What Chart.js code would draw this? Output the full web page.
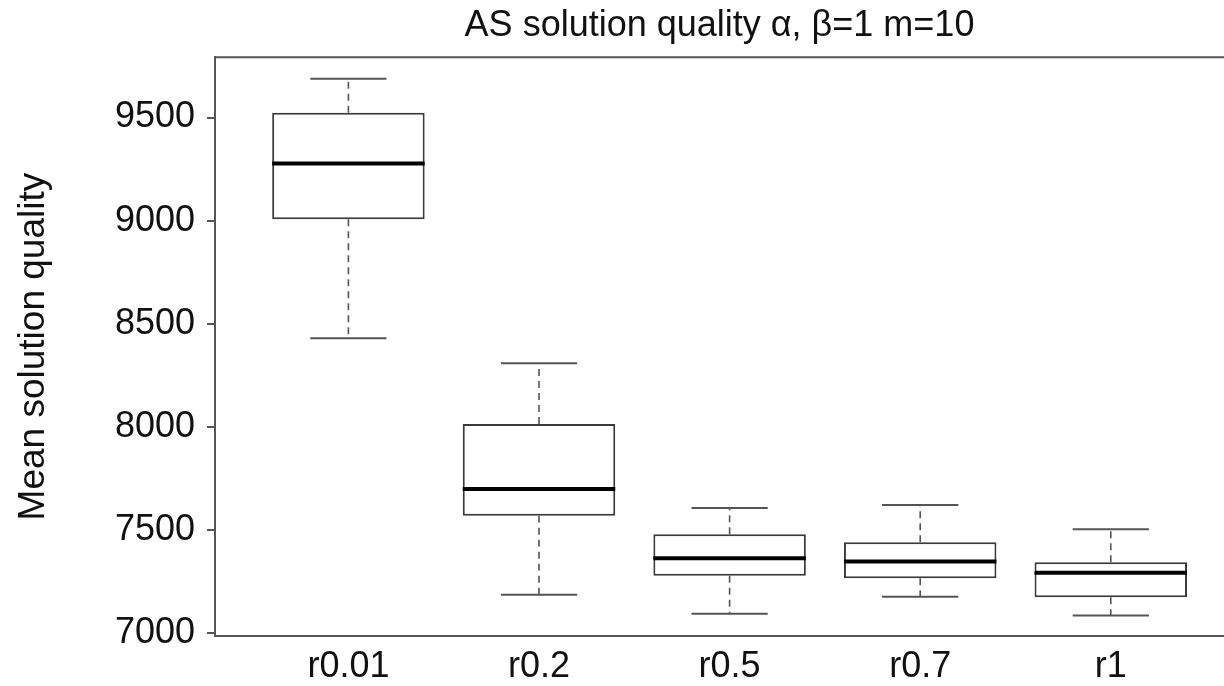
<!DOCTYPE html>
<html>
<head>
<meta charset="utf-8">
<script src="https://cdn.jsdelivr.net/npm/chart.js@4.4.1/dist/chart.umd.min.js"></script>
<style>
  html, body { margin: 0; padding: 0; background: #ffffff; overflow: hidden; }
  #wrap { width: 1224px; height: 686px; }
</style>
</head>
<body>
<div id="wrap"><canvas id="c" width="1224" height="686"></canvas></div>
<script>
// ---- data ----
const categories  = ['r0.01', 'r0.2', 'r0.5', 'r0.7', 'r1'];
const whiskerLow  = [8429, 7184, 7092, 7175, 7083];
const q1          = [9007, 7568, 7277, 7264, 7172];
const median      = [9277, 7698, 7361, 7345, 7291];
const q3          = [9524, 8013, 7478, 7439, 7342];
const whiskerHigh = [9688, 8308, 7605, 7620, 7502];
const yTicks      = [7000, 7500, 8000, 8500, 9000, 9500];

const titleText = 'AS solution quality \u03B1, \u03B2=1 m=10';
const yTitle = 'Mean solution quality';

const FONT = "'Liberation Sans', Arial, Helvetica, sans-serif";
const TEXT = '#111111';
const FRAME = '#555555';

const boxData = categories.map((c, i) => ({ x: i + 1, y: [q1[i], q3[i]] }));

const boxExtras = {
  id: 'boxExtras',
  afterDatasetsDraw(chart) {
    const ctx = chart.ctx;
    const xs = chart.scales.x, ys = chart.scales.y;
    const area = chart.chartArea;
    ctx.save();
    // top frame line
    ctx.strokeStyle = FRAME;
    ctx.lineWidth = 2;
    ctx.beginPath();
    ctx.moveTo(area.left, area.top);
    ctx.lineTo(area.right, area.top);
    ctx.stroke();

    categories.forEach((c, i) => {
      const xc = xs.getPixelForValue(i + 1);
      const halfBox = (xs.getPixelForValue(i + 1.4) - xs.getPixelForValue(i + 0.6)) / 2;
      const halfCap = halfBox / 2;
      const yLo = ys.getPixelForValue(whiskerLow[i]);
      const yQ1 = ys.getPixelForValue(q1[i]);
      const yMed = ys.getPixelForValue(median[i]);
      const yQ3 = ys.getPixelForValue(q3[i]);
      const yHi = ys.getPixelForValue(whiskerHigh[i]);

      // dashed whiskers
      ctx.strokeStyle = '#555555';
      ctx.lineWidth = 1.6;
      ctx.setLineDash([7, 5]);
      ctx.beginPath();
      ctx.moveTo(xc, yQ3); ctx.lineTo(xc, yHi);
      ctx.moveTo(xc, yQ1); ctx.lineTo(xc, yLo);
      ctx.stroke();
      ctx.setLineDash([]);

      // caps
      ctx.lineWidth = 2;
      ctx.beginPath();
      ctx.moveTo(xc - halfCap, yHi); ctx.lineTo(xc + halfCap, yHi);
      ctx.moveTo(xc - halfCap, yLo); ctx.lineTo(xc + halfCap, yLo);
      ctx.stroke();

      // median
      ctx.strokeStyle = '#000000';
      ctx.lineWidth = 4;
      ctx.beginPath();
      ctx.moveTo(xc - halfBox, yMed); ctx.lineTo(xc + halfBox, yMed);
      ctx.stroke();
    });
    ctx.restore();
  }
};

new Chart(document.getElementById('c'), {
  type: 'bar',
  data: {
    datasets: [{
      data: boxData,
      backgroundColor: '#ffffff',
      borderColor: '#3a3a3a',
      borderWidth: 2,
      borderSkipped: false,
      categoryPercentage: 1.0,
      barPercentage: 0.8
    }]
  },
  plugins: [boxExtras],
  options: {
    responsive: false,
    devicePixelRatio: 1,
    animation: false,
    layout: { padding: { left: 0, right: 0, top: 0, bottom: 0 } },
    plugins: {
      legend: { display: false },
      tooltip: { enabled: false },
      title: {
        display: true,
        text: titleText,
        fullSize: false,
        color: TEXT,
        font: { family: FONT, size: 36, weight: 'normal', lineHeight: 1.2 },
        padding: { top: 4, bottom: 10 }
      }
    },
    scales: {
      x: {
        type: 'linear',
        offset: false,
        min: 0.3,
        max: 5.594,
        afterFit(s) { s.height = 50; },
        afterBuildTicks(s) { s.ticks = categories.map((c, i) => ({ value: i + 1 })); },
        grid: { display: false, drawTicks: false, offset: false },
        border: { display: true, color: FRAME, width: 2 },
        ticks: {
          autoSkip: false,
          maxRotation: 0,
          padding: 9,
          color: TEXT,
          font: { family: FONT, size: 36 },
          callback: (v) => categories[Math.round(v) - 1]
        }
      },
      y: {
        type: 'linear',
        min: 6984,
        max: 9793,
        afterFit(s) { s.width = 215; },
        afterBuildTicks(s) { s.ticks = yTicks.map(v => ({ value: v })); },
        grid: { display: true, drawOnChartArea: false, drawTicks: true, tickLength: 8, color: FRAME, lineWidth: 2 },
        border: { display: true, color: FRAME, width: 2 },
        ticks: {
          padding: 12,
          color: TEXT,
          font: { family: FONT, size: 36 },
          callback: (v) => String(v)
        },
        title: {
          display: true,
          text: yTitle,
          color: TEXT,
          font: { family: FONT, size: 37, weight: 'normal', lineHeight: 1.2 },
          padding: { top: 12, bottom: 0 }
        }
      }
    }
  }
});
</script>
</body>
</html>
